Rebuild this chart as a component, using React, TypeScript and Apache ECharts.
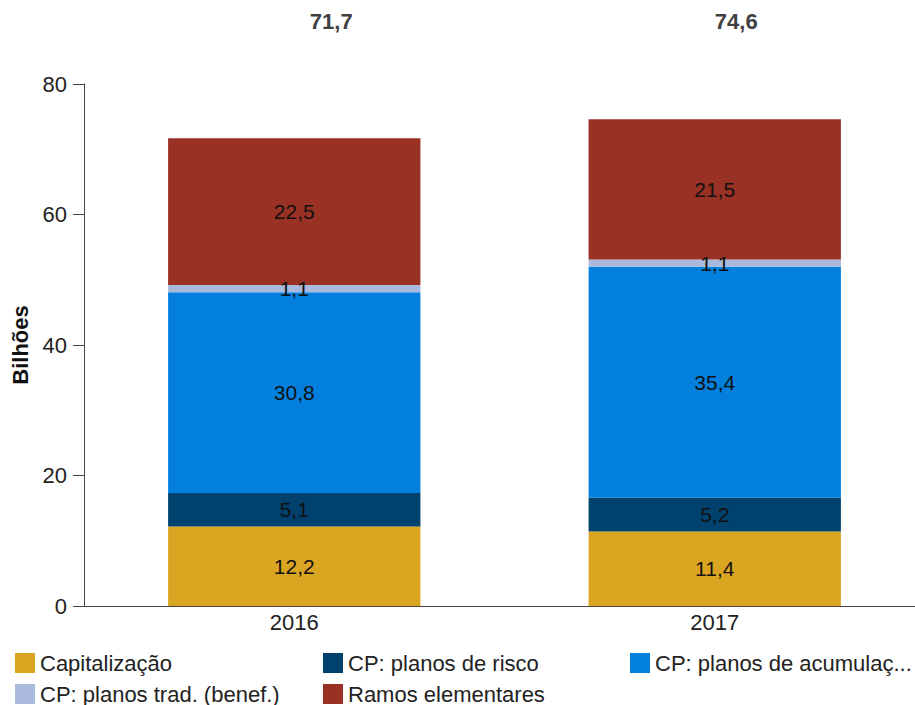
import React, { useEffect, useRef } from "react";
import * as echarts from "echarts";

const categories = ["2016", "2017"];
const seriesNames = [
  "Capitalização",
  "CP: planos de risco",
  "CP: planos de acumulação",
  "CP: planos trad. (benef.)",
  "Ramos elementares",
];
const capitalizacao = [12.2, 11.4];
const planosRisco = [5.1, 5.2];
const planosAcumulacao = [30.8, 35.4];
const planosTrad = [1.1, 1.1];
const ramosElementares = [22.5, 21.5];
const colors = ["#DAA520", "#00416E", "#0380DE", "#A9BADC", "#9A3125"];
const yTicks = { min: 0, max: 80, interval: 20 };

const fmt = (v: number) => v.toFixed(1).replace(".", ",");

export default function App() {
  const ref = useRef<HTMLDivElement>(null);
  useEffect(() => {
    if (!ref.current) return;
    const chart = echarts.init(ref.current, null, { renderer: "svg" });
    const values = [capitalizacao, planosRisco, planosAcumulacao, planosTrad, ramosElementares];
    const totals = categories.map((_, i) => values.reduce((s, arr) => s + arr[i], 0));
    const font = "Liberation Sans, Arial, sans-serif";
    const totalStyle = { fontSize: 22, fontWeight: "bold", color: "#404040", fontFamily: font };
    const legendBase = {
      orient: "vertical",
      top: 647,
      height: 80,
      itemWidth: 20,
      itemHeight: 20,
      itemGap: 9,
      icon: "rect",
      textStyle: {
        fontSize: 22,
        color: "#222",
        fontFamily: font,
        width: 262,
        overflow: "truncate",
        ellipsis: "...",
      },
    };
    chart.setOption({
      animation: false,
      textStyle: { fontFamily: font },
      grid: { left: 84, top: 84, bottom: 99, right: -10, outerBoundsMode: "none", containLabel: false },
      xAxis: [
        {
          type: "category",
          data: categories,
          axisLine: { lineStyle: { color: "#444", width: 1 } },
          axisTick: { show: false },
          axisLabel: { fontSize: 22, color: "#222", margin: 5, fontFamily: font },
        },
        {
          type: "category",
          position: "top",
          data: totals.map((t) => fmt(t)),
          axisLine: { show: false },
          axisTick: { show: false },
          axisLabel: {
            ...totalStyle,
            margin: 52,
            formatter: (v: string, i: number) => (i === 0 ? `{a|${v}}` : `{b|${v}}`),
            rich: {
              a: { ...totalStyle, padding: [0, 0, 0, 74] },
              b: { ...totalStyle, padding: [0, 0, 0, 43] },
            },
          },
        },
      ],
      yAxis: {
        type: "value",
        min: yTicks.min,
        max: yTicks.max,
        interval: yTicks.interval,
        name: "Bilhões",
        nameLocation: "middle",
        nameGap: 53,
        nameTextStyle: { fontSize: 22, fontWeight: "bold", color: "#111", fontFamily: font },
        axisLine: { show: true, lineStyle: { color: "#444", width: 1 } },
        axisTick: { show: true, length: 11, lineStyle: { color: "#444" } },
        axisLabel: { fontSize: 22, color: "#222", margin: 17, fontFamily: font },
        splitLine: { show: false },
      },
      legend: [
        { ...legendBase, left: 10, data: [seriesNames[0], seriesNames[3]] },
        { ...legendBase, left: 318, data: [seriesNames[1], seriesNames[4]] },
        { ...legendBase, left: 625, data: [seriesNames[2]] },
      ],
      series: values.map((arr, k) => ({
        name: seriesNames[k],
        type: "bar",
        stack: "total",
        xAxisIndex: 0,
        barWidth: "60%",
        data: arr,
        itemStyle: { color: colors[k] },
        label: {
          show: true,
          position: "inside",
          fontSize: 21,
          color: "#111",
          fontFamily: font,
          formatter: (p: any) => fmt(p.value),
        },
      })),
    });
    return () => chart.dispose();
  }, []);
  return (
    <div
      ref={ref}
      style={{ position: "absolute", left: 0, top: 0, width: 915, height: 705 }}
    />
  );
}
